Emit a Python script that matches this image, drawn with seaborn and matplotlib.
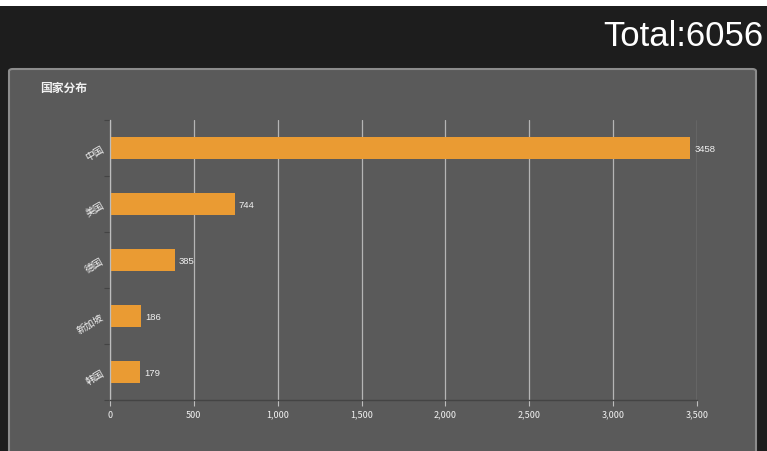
import matplotlib
matplotlib.use("Agg")
import matplotlib.pyplot as plt
import seaborn as sns
import pandas as pd
from matplotlib.patches import Rectangle, FancyBboxPatch
from matplotlib.ticker import FuncFormatter, FixedLocator

# data
countries = ["中国", "美国", "德国", "新加坡", "韩国"]
counts = [3458, 744, 385, 186, 179]
total = 6056
x_ticks = [0, 500, 1000, 1500, 2000, 2500, 3000, 3500]

df = pd.DataFrame({"country": countries, "count": counts})

sns.set_theme(style="white")
plt.rcParams["font.family"] = ["Noto Sans CJK SC", "DejaVu Sans"]

bar_color = "#EA9B33"
panel = "#5A5A5A"
dark = "#1D1D1D"
text_c = "#F2F2F2"

fig = plt.figure(figsize=(7.67, 4.52), dpi=100)
fig.patch.set_facecolor(dark)

# white strip on top, grey panel with light border
fig.patches.append(Rectangle((0, 1 - 7 / 452), 1, 7 / 452, transform=fig.transFigure,
                             facecolor="white", edgecolor="none", zorder=-10))
fig.patches.append(FancyBboxPatch((9 / 767, -0.05), 747 / 767, (452 - 70) / 452 + 0.05,
                                  boxstyle="round,pad=0,rounding_size=0.005",
                                  transform=fig.transFigure, facecolor=panel,
                                  edgecolor="#8C8C8C", linewidth=1.5, zorder=-10))

fig.text(763 / 767, 1 - 36 / 452, f"Total:{total}", ha="right", va="center",
         fontsize=25, color="white", family=["Liberation Sans", "DejaVu Sans"])
fig.text(40 / 767, 1 - 88 / 452, "国家分布", ha="left", va="center",
         fontsize=8.5, fontweight="bold", color=text_c)

ax = fig.add_axes([110 / 767, 51 / 452, 587 / 767, 280 / 452])
ax.set_zorder(5)
ax.set_facecolor(panel)

sns.barplot(data=df, y="country", x="count", orient="h", color=bar_color,
            width=0.4, saturation=1, edgecolor=bar_color, linewidth=0, ax=ax)

ax.set_xlim(0, 3500)
ax.set_ylim(4.5, -0.5)
ax.xaxis.set_major_locator(FixedLocator(x_ticks))
ax.xaxis.set_major_formatter(FuncFormatter(lambda v, p: f"{int(v):,}"))
ax.grid(axis="x", color="#B5B5B5", linewidth=0.9)
ax.grid(axis="y", visible=False)
ax.set_axisbelow(True)

for s in ["top", "right"]:
    ax.spines[s].set_visible(False)
ax.spines["left"].set_color("#BDBDBD")
ax.spines["left"].set_linewidth(0.9)
ax.spines["bottom"].set_color("#444444")
ax.spines["bottom"].set_linewidth(1.0)

ax.tick_params(axis="x", colors="#BDBDBD", labelcolor=text_c, labelsize=6.5,
               length=4, width=0.8, bottom=True, pad=3)
ax.tick_params(axis="y", labelcolor=text_c, labelsize=7, length=0, pad=5)
for lab in ax.get_yticklabels():
    lab.set_rotation(30)
    lab.set_ha("right")
    lab.set_va("center")
    lab.set_rotation_mode("anchor")

# small boundary ticks on y axis
ax.set_yticks([i + 0.5 for i in range(-1, 5)], minor=True)
ax.tick_params(axis="y", which="minor", left=True, length=4, width=0.8, color="#444444")

ax.set_xlabel("")
ax.set_ylabel("")

for c in ax.containers:
    ax.bar_label(c, labels=[str(v) for v in counts], padding=3, fontsize=6.8,
                 color=text_c, family=["Liberation Sans", "DejaVu Sans"])

fig.savefig("out.png", dpi=100, facecolor=fig.get_facecolor())
